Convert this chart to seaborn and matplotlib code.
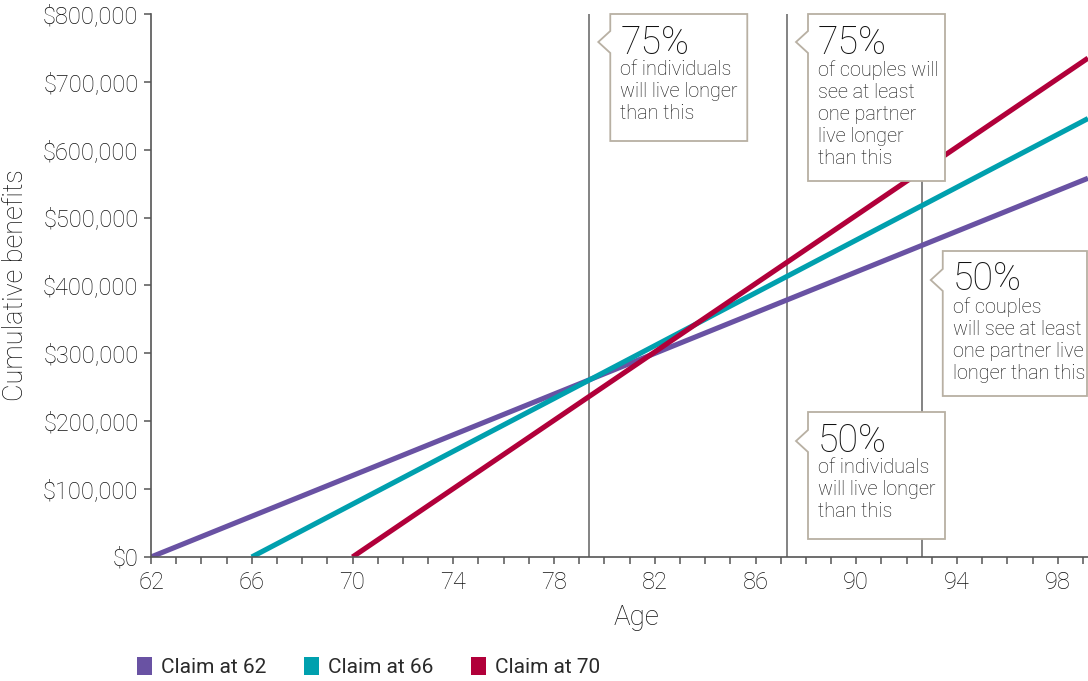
import matplotlib
matplotlib.use("Agg")
import matplotlib.pyplot as plt
import matplotlib.transforms as mtransforms
from matplotlib.patches import Polygon, Patch
from matplotlib.ticker import FixedLocator, MultipleLocator, FuncFormatter
import pandas as pd
import seaborn as sns

# ---- data -----------------------------------------------------------------
claim_labels = ["Claim at 62", "Claim at 66", "Claim at 70"]
claim_ages = [62, 66, 70]
end_age = 99.2
end_benefits = [558000, 646000, 735000]
line_colors = ["#6952a3", "#00a0ae", "#b1003a"]

x_tick_values = [62, 66, 70, 74, 78, 82, 86, 90, 94, 98]
y_tick_values = [0, 100000, 200000, 300000, 400000, 500000, 600000, 700000, 800000]

# survival milestones (age)
milestone_ages = [79.4, 87.25, 92.6]

callout_headers = ["75%", "75%", "50%", "50%"]
callout_bodies = [
    "of individuals\nwill live longer\nthan this",
    "of couples will\nsee at least\none partner\nlive longer\nthan this",
    "of couples\nwill see at least\none partner live\nlonger than this",
    "of individuals\nwill live longer\nthan this",
]
callout_lines = [0, 1, 2, 1]  # index into milestone_ages

# ---- styling ----------------------------------------------------------------
sns.set_style("ticks")
plt.rcParams["font.family"] = ["Roboto", "DejaVu Sans"]
plt.rcParams["font.weight"] = "light"
plt.rcParams["axes.labelweight"] = "light"
TEXT = "#111111"
AXIS = "#555555"
BOX = "#b8b0a3"

W, H = 1088, 681
fig = plt.figure(figsize=(W / 100, H / 100), dpi=100)
ax = fig.add_axes([151 / W, (H - 557) / H, (W - 151) / W, (557 - 14) / H])

rows = []
for lab, a0, b1 in zip(claim_labels, claim_ages, end_benefits):
    rows.append({"claim": lab, "age": a0, "benefit": 0})
    rows.append({"claim": lab, "age": end_age, "benefit": b1})
df = pd.DataFrame(rows)

for a in milestone_ages:
    ax.axvline(a, color="#6e6e6e", lw=1.2, zorder=1)

sns.lineplot(data=df, x="age", y="benefit", hue="claim",
             palette=dict(zip(claim_labels, line_colors)),
             linewidth=3.7, legend=False, ax=ax, zorder=2,
             solid_capstyle="butt")

ax.set_xlim(62, end_age)
ax.set_ylim(0, 800000)
ax.xaxis.set_major_locator(FixedLocator(x_tick_values))
ax.xaxis.set_minor_locator(MultipleLocator(1))
ax.yaxis.set_major_locator(FixedLocator(y_tick_values))
ax.yaxis.set_major_formatter(FuncFormatter(lambda v, p: f"${v:,.0f}"))

for s in ["top", "right"]:
    ax.spines[s].set_visible(False)
for s in ["left", "bottom"]:
    ax.spines[s].set_color(AXIS)
    ax.spines[s].set_linewidth(1.2)

ax.tick_params(axis="both", which="both", color=AXIS, width=1.1, length=5,
               labelcolor=TEXT, labelsize=17, direction="out")
ax.tick_params(axis="x", which="major", pad=5)
ax.tick_params(axis="y", which="major", pad=4)

ax.set_xlabel("Age", fontsize=20, color=TEXT, fontweight="light")
ax.set_ylabel("Cumulative benefits", fontsize=19.5, color=TEXT,
              fontweight="light")
ax.xaxis.set_label_coords((636 - 151) / 937, (557 - 604) / 543)
ax.xaxis.label.set_va("top")
ax.yaxis.set_label_coords((16 - 151) / 937, 0.5)
ax.yaxis.label.set_va("center")

# ---- callouts (drawn in pixel space, anchored to the milestone lines) ------
ident = mtransforms.IdentityTransform()
fig.canvas.draw()

box_geom = [  # (top, bottom, tip_y, right) in image pixels
    (14, 141, 42, None),
    (14, 181, 42, None),
    (251, 396, 280, 1087),
    (412, 539, 441, None),
]

for hdr, body, li, (top, bot, tip_y, right) in zip(
        callout_headers, callout_bodies, callout_lines, box_geom):
    lx = ax.transData.transform((milestone_ages[li], 0))[0]
    left = lx + 21
    tip_x = lx + 9
    if right is None:
        right = left + 137
    pts = [(left, top), (right, top), (right, bot), (left, bot),
           (left, tip_y + 11), (tip_x, tip_y), (left, tip_y - 11)]
    pts = [(x, H - y) for x, y in pts]
    poly = Polygon(pts, closed=True, facecolor="white", edgecolor=BOX,
                   lw=1.3, transform=ident, zorder=5)
    fig.add_artist(poly)
    fig.text(left + 10, H - (top + 10), hdr, transform=ident, fontsize=27,
             color=TEXT, va="top", ha="left", zorder=6)
    fig.text(left + 10, H - (top + 46), body, transform=ident, fontsize=14.3,
             color=TEXT, va="top", ha="left", linespacing=1.2, zorder=6)

# ---- legend -----------------------------------------------------------------
fs = 15
fs_px = fs * 100 / 72
handles = [Patch(facecolor=c, edgecolor="none", label=l)
           for l, c in zip(claim_labels, line_colors)]
fig.legend(handles=handles, loc="center left",
           bbox_to_anchor=((137 - 0.4 * fs_px) / W, (H - 667) / H),
           borderaxespad=0, ncol=3, frameon=False,
           prop={"family": ["Roboto", "DejaVu Sans"],
                 "size": fs, "weight": "normal"},
           handlelength=15 / fs_px, handleheight=20 / fs_px,
           handletextpad=9 / fs_px, columnspacing=1.8, labelcolor="#2a2a2a")

fig.savefig("out.png", dpi=100)
